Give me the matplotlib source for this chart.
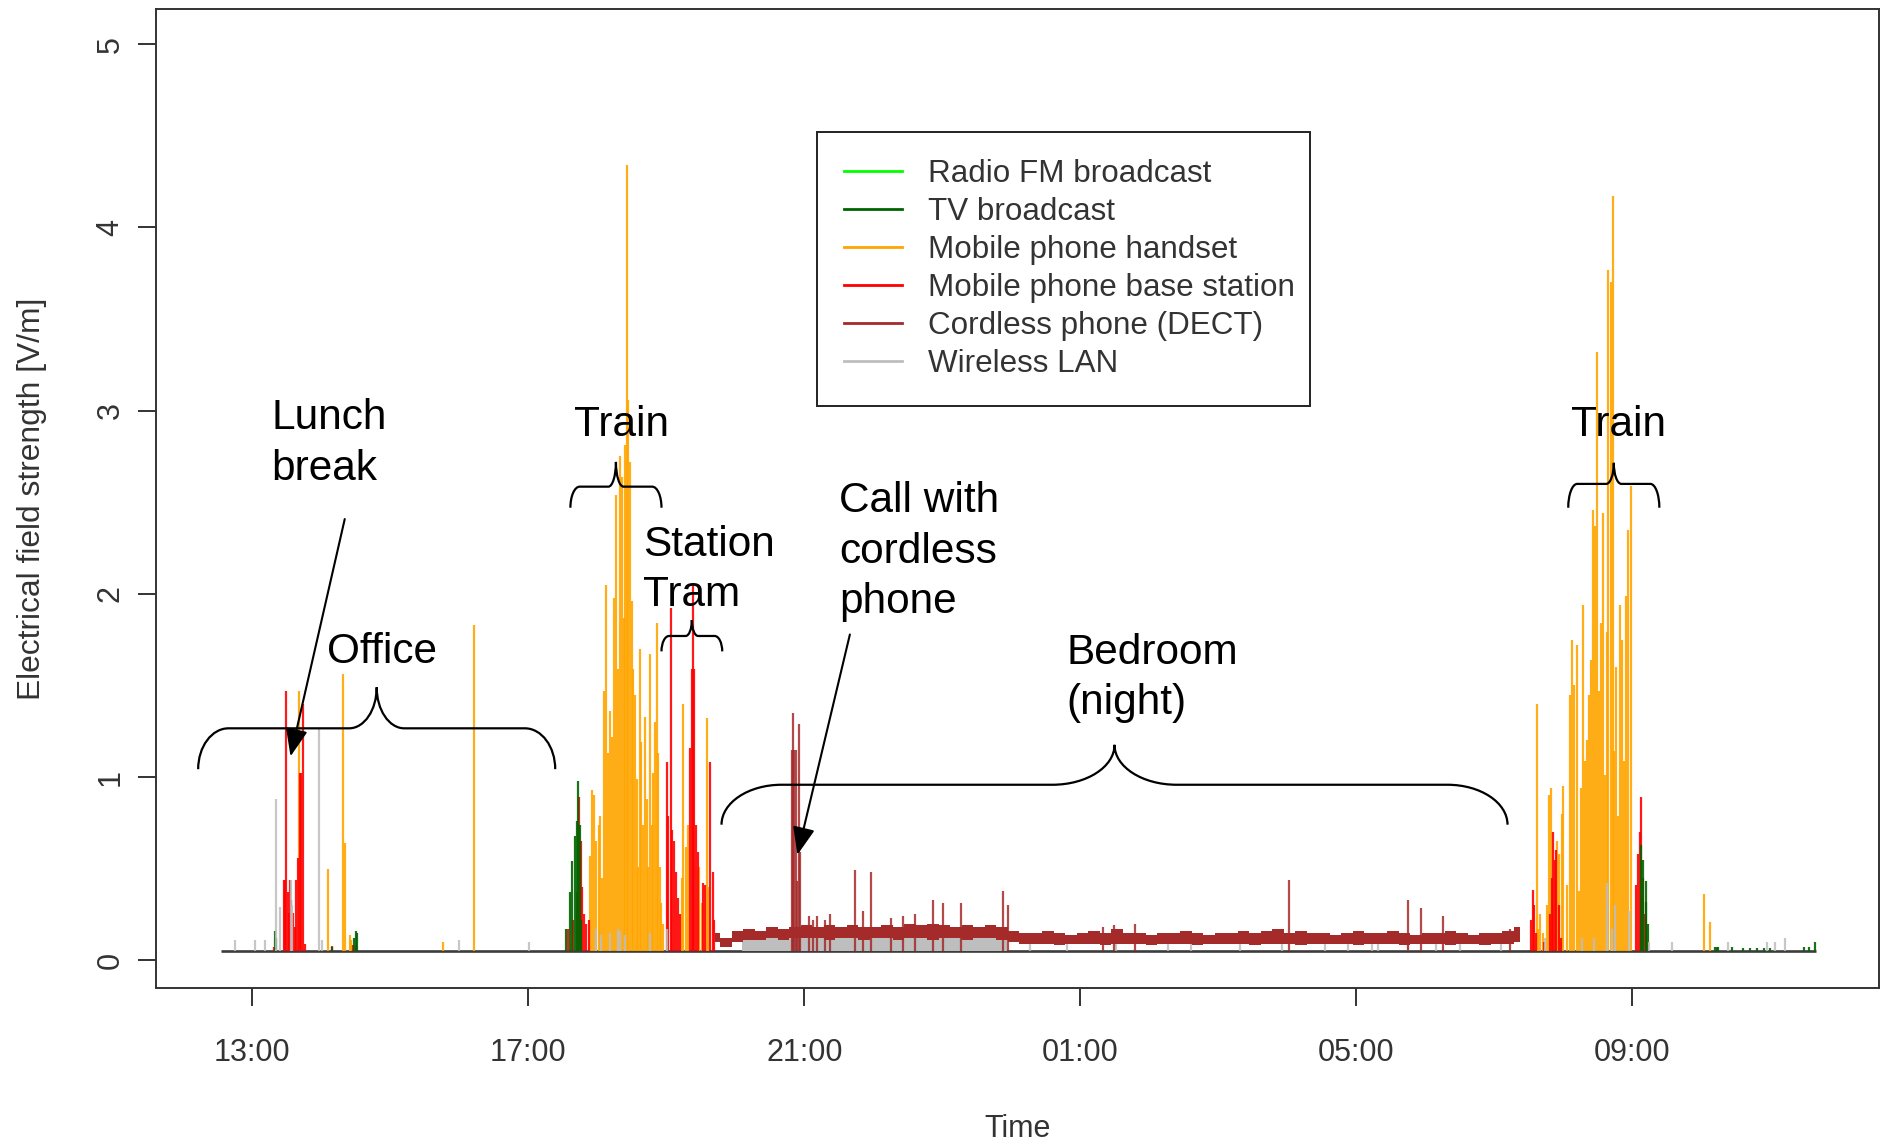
import numpy as np
import matplotlib.pyplot as plt
from matplotlib.lines import Line2D
from matplotlib.path import Path
from matplotlib.patches import PathPatch

plt.rcParams['font.family'] = ['Liberation Sans', 'DejaVu Sans']

# time axis: hours after midnight of the first day (25 = 01:00 next morning)
tick_hours = [13, 17, 21, 25, 29, 33]
tick_labels = ['13:00', '17:00', '21:00', '01:00', '05:00', '09:00']

series_names = ['Radio FM broadcast', 'TV broadcast', 'Mobile phone handset',
                'Mobile phone base station', 'Cordless phone (DECT)', 'Wireless LAN']
series_colors = ['#00ff00', '#006400', '#ffa500', '#ff0000', '#a52a2a', '#bebebe']

floor_level = 0.05          # detection limit, every band sits on it
record_start, record_end = 12.55, 35.66

# Radio FM never rises above the floor
fm_t = []
fm_v = []

tv_t = [13.33, 13.34, 14.15, 14.48, 14.50, 14.52,
        17.55, 17.60, 17.64, 17.67, 17.70, 17.72, 17.75, 17.77,
        33.13, 33.16, 33.19, 33.20, 33.23,
        34.19, 34.22, 34.24, 34.44, 34.60, 34.70, 34.80, 34.90, 35.00,
        35.49, 35.56, 35.64]
tv_v = [0.16, 0.12, 0.075, 0.12, 0.16, 0.15,
        0.17, 0.37, 0.54, 0.68, 0.76, 0.98, 0.74, 0.22,
        0.63, 0.55, 0.43, 0.32, 0.20,
        0.07, 0.07, 0.07, 0.07, 0.065, 0.065, 0.065, 0.065, 0.065,
        0.07, 0.07, 0.10]

handset_t = [13.67, 14.10, 14.32, 14.34, 14.41, 14.43, 15.77, 16.22,
             # train (evening)
             17.892, 17.926, 17.955, 17.988, 18.022, 18.046, 18.075, 18.100,
             18.133, 18.157, 18.182, 18.215, 18.244, 18.278, 18.302, 18.327,
             18.356, 18.380, 18.399, 18.423, 18.447, 18.471, 18.496, 18.520,
             18.544, 18.568, 18.592, 18.616, 18.640, 18.665, 18.689, 18.713,
             18.737, 18.761, 18.786, 18.810, 18.834, 18.858, 18.882, 18.906,
             18.930, 18.955,
             # station / tram
             19.220, 19.244, 19.278, 19.307, 19.476, 19.510, 19.583, 19.607,
             # train (morning)
             31.610, 31.636, 31.660, 31.710, 31.760, 31.795, 31.819, 31.901,
             31.940, 31.974, 31.998, 32.046, 32.095, 32.128, 32.157, 32.191,
             32.220, 32.249, 32.278, 32.312, 32.336, 32.370, 32.394, 32.423,
             32.457, 32.486, 32.515, 32.544, 32.568, 32.602, 32.626, 32.650,
             32.684, 32.713, 32.737, 32.761, 32.785, 32.819, 32.843, 32.877,
             32.906, 32.940, 32.979,
             34.04, 34.13]
handset_v = [1.47, 0.50, 1.56, 0.64, 0.14, 0.11, 0.10, 1.83,
             0.57, 0.93, 0.90, 0.65, 0.74, 0.79, 0.45, 1.47,
             2.05, 1.13, 1.36, 1.22, 1.98, 2.54, 1.59, 2.75,
             2.64, 1.87, 2.81, 4.34, 3.06, 2.72, 1.96, 1.59,
             1.45, 0.99, 0.51, 1.70, 1.19, 0.74, 1.33, 0.88,
             0.51, 1.67, 0.74, 1.02, 1.30, 1.84, 1.13, 0.51,
             0.31, 0.20,
             0.45, 1.40, 0.62, 0.74, 0.51, 0.31, 1.32, 0.40,
             1.40, 0.17, 0.25, 0.15, 0.30, 0.90, 0.94, 0.65,
             0.58, 0.80, 0.95, 0.41, 1.45, 1.75, 1.50, 1.72,
             0.38, 0.94, 1.94, 1.09, 1.20, 1.45, 1.64, 2.46,
             2.37, 3.32, 1.47, 1.84, 2.44, 1.01, 1.79, 3.77,
             3.70, 4.17, 1.14, 1.60, 0.79, 1.94, 1.75, 1.09,
             1.99, 2.35, 2.59,
             0.36, 0.21]

base_t = [13.32, 13.457, 13.480, 13.495, 13.520, 13.534, 13.553, 13.568,
          13.592, 13.616, 13.640, 13.664, 13.688, 13.713, 13.737, 13.761,
          14.15, 14.46, 14.51,
          17.578, 17.650, 17.699, 17.737, 17.757, 17.776, 17.805, 17.843, 17.882,
          19.003, 19.027, 19.061, 19.085, 19.109, 19.138, 19.172, 19.196,
          19.341, 19.365, 19.380, 19.404, 19.428, 19.452, 19.534, 19.558,
          19.640, 19.670, 19.689,
          31.524, 31.552, 31.574, 31.596, 31.718, 31.801, 31.829, 31.846,
          31.873, 31.895, 31.929, 31.968,
          33.049, 33.077, 33.105, 33.121, 33.149, 33.188, 33.215]
base_v = [0.07, 0.44, 0.44, 1.47, 0.37, 0.26, 0.44, 0.33,
          0.26, 0.18, 0.44, 0.56, 1.02, 1.02, 1.40, 0.09,
          0.08, 0.085, 0.085,
          0.17, 0.22, 0.37, 0.89, 0.65, 0.40, 0.25, 0.20, 0.22,
          1.08, 0.79, 1.92, 0.71, 0.65, 0.48, 0.34, 0.25,
          1.16, 1.59, 2.05, 1.59, 0.74, 0.59, 0.42, 0.41,
          1.08, 0.48, 0.22,
          0.22, 0.385, 0.30, 0.15, 0.10, 0.25, 0.45, 0.70,
          0.55, 0.60, 0.30, 0.12,
          0.41, 0.58, 0.70, 0.89, 0.45, 0.25, 0.10]

# cordless phone: peaks above the night-time band
dect_t = [20.820, 20.834, 20.855, 20.875, 20.900, 20.917, 20.939,
          21.07, 21.13, 21.19, 21.30, 21.37, 21.732, 21.849, 21.960,
          22.25, 22.425, 22.60, 22.858, 23.008, 23.269, 23.879, 23.956,
          25.33, 25.49, 25.79, 28.02, 29.75, 29.93, 30.25, 31.22]
dect_v = [1.15, 1.35, 1.15, 1.15, 0.43, 1.29, 0.59,
          0.24, 0.22, 0.24, 0.22, 0.25, 0.49, 0.27, 0.48,
          0.23, 0.24, 0.25, 0.33, 0.31, 0.31, 0.38, 0.30,
          0.18, 0.19, 0.20, 0.44, 0.33, 0.285, 0.243, 0.17]

# cordless phone background during the night, one reading every 10 minutes
dect_band_start = 19.70
dect_band_hi = [0.15, 0.12, 0.16, 0.17, 0.16, 0.18, 0.17, 0.18, 0.19, 0.18,
                0.19, 0.18, 0.19, 0.18, 0.18, 0.19, 0.18, 0.20, 0.19, 0.20,
                0.19, 0.18, 0.19, 0.18, 0.19, 0.18, 0.16, 0.15, 0.15, 0.16,
                0.15, 0.14, 0.15, 0.16, 0.15, 0.17, 0.15, 0.15, 0.14, 0.15,
                0.15, 0.16, 0.15, 0.14, 0.15, 0.15, 0.16, 0.15, 0.16, 0.17,
                0.15, 0.16, 0.15, 0.15, 0.14, 0.15, 0.16, 0.15, 0.15, 0.16,
                0.15, 0.14, 0.15, 0.15, 0.16, 0.15, 0.14, 0.15, 0.15, 0.16,
                0.18]
dect_band_lo = [0.10, 0.07, 0.10, 0.11, 0.11, 0.12, 0.11, 0.12, 0.12, 0.12,
                0.11, 0.12, 0.12, 0.11, 0.12, 0.12, 0.11, 0.12, 0.12, 0.11,
                0.12, 0.12, 0.11, 0.12, 0.12, 0.11, 0.10, 0.09, 0.09, 0.09,
                0.085, 0.09, 0.09, 0.09, 0.085, 0.09, 0.09, 0.09, 0.085, 0.09,
                0.09, 0.09, 0.085, 0.09, 0.09, 0.09, 0.09, 0.085, 0.09, 0.09,
                0.09, 0.085, 0.09, 0.09, 0.09, 0.09, 0.085, 0.09, 0.09, 0.09,
                0.085, 0.09, 0.09, 0.09, 0.085, 0.09, 0.09, 0.085, 0.09, 0.09,
                0.10]

wlan_t = [12.746, 13.036, 13.181, 13.350, 13.408, 13.555, 13.570, 13.964, 14.017,
          15.997, 17.01,
          17.988, 18.060, 18.182, 18.302, 18.327, 18.399, 18.761, 19.003,
          24.27, 24.80, 25.52, 26.27, 26.61, 27.31, 27.92, 28.54, 28.88,
          29.22, 29.32, 29.75, 30.16, 30.50, 31.10,
          31.74, 32.27, 32.44, 32.633, 32.705, 32.744, 32.949,
          33.24, 33.58, 34.39, 34.95, 35.07, 35.21]
wlan_v = [0.11, 0.11, 0.11, 0.88, 0.29, 0.44, 0.30, 1.26, 0.11,
          0.11, 0.10,
          0.17, 0.14, 0.15, 0.17, 0.16, 0.14, 0.15, 0.17,
          0.10, 0.10, 0.11, 0.10, 0.10, 0.09, 0.11, 0.10, 0.10,
          0.11, 0.10, 0.11, 0.10, 0.10, 0.10,
          0.12, 0.12, 0.12, 0.42, 0.17, 0.30, 0.27,
          0.10, 0.10, 0.10, 0.10, 0.10, 0.12]

# wireless LAN background in the evening, one reading every 10 minutes
wlan_band_start = 20.10
wlan_band_v = [0.15, 0.16, 0.15, 0.16, 0.17, 0.16, 0.15, 0.16, 0.16, 0.17,
               0.16, 0.15, 0.16, 0.17, 0.16, 0.16, 0.15, 0.16, 0.16, 0.17,
               0.16, 0.15, 0.16, 0.16]


def brace(ax, x0, x1, y, y_end, y_tip, rx, rt):
    c = 0.5523
    xm = (x0 + x1) / 2
    verts = [(x0, y_end),
             (x0, y_end + c * (y - y_end)), (x0 + rx - c * rx, y), (x0 + rx, y),
             (xm - rt, y),
             (xm - rt + c * rt, y), (xm, y_tip - c * (y_tip - y)), (xm, y_tip),
             (xm, y_tip - c * (y_tip - y)), (xm + rt - c * rt, y), (xm + rt, y),
             (x1 - rx, y),
             (x1 - rx + c * rx, y), (x1, y_end + c * (y - y_end)), (x1, y_end)]
    codes = ([Path.MOVETO] + [Path.CURVE4] * 3 + [Path.LINETO] + [Path.CURVE4] * 6
             + [Path.LINETO] + [Path.CURVE4] * 3)
    ax.add_patch(PathPatch(Path(verts, codes), fill=False, lw=1.6,
                           edgecolor='black', zorder=6))


fig = plt.figure(figsize=(18.85, 11.42), dpi=100)
ax = fig.add_axes([0.0828, 0.1349, 0.9139, 0.8569])

ax.hlines(floor_level, record_start, record_end, color='#3c3c3c', lw=1.9, zorder=2)

spike_w = 1.6
ax.vlines(handset_t, floor_level, handset_v, color=series_colors[2], lw=spike_w, alpha=0.9, zorder=3)
ax.vlines(base_t, floor_level, base_v, color=series_colors[3], lw=spike_w, alpha=0.9, zorder=3)
ax.vlines(tv_t, floor_level, tv_v, color=series_colors[1], lw=spike_w, alpha=0.9, zorder=3)
if fm_t:
    ax.vlines(fm_t, floor_level, fm_v, color=series_colors[0], lw=spike_w, zorder=3)

wlan_band_t = wlan_band_start + np.arange(len(wlan_band_v)) / 6
ax.fill_between(wlan_band_t, floor_level, wlan_band_v, step='mid',
                color=series_colors[5], lw=0, zorder=3)
ax.vlines(wlan_t, floor_level, wlan_v, color=series_colors[5], lw=spike_w, alpha=0.85, zorder=3)

dect_band_t = dect_band_start + np.arange(len(dect_band_hi)) / 6
ax.fill_between(dect_band_t, dect_band_lo, dect_band_hi, step='mid',
                color=series_colors[4], lw=0, zorder=4)
ax.vlines(dect_t, floor_level, dect_v, color=series_colors[4], lw=spike_w, alpha=0.85, zorder=4)

ax.set_xlim(11.606, 36.57)
ax.set_ylim(-0.151, 5.19)
ax.set_xticks(tick_hours)
ax.set_xticklabels(tick_labels)
ax.set_yticks([0, 1, 2, 3, 4, 5])

for s in ax.spines.values():
    s.set_color('#333333')
    s.set_linewidth(1.4)
ax.tick_params(length=13, width=1.4, color='#333333', labelsize=22,
               labelcolor='#333333')
ax.tick_params(axis='x', pad=23)
ax.tick_params(axis='y', pad=9, labelrotation=90)
for lab in ax.get_yticklabels():
    lab.set_va('center')

ax.set_xlabel('Time', fontsize=22, color='#333333')
ax.set_ylabel('Electrical field strength [V/m]', fontsize=22.9, color='#333333')
ax.xaxis.set_label_coords(0.5, -0.1284)
ax.yaxis.set_label_coords(-0.0636, 0.5)

# annotations
txt = dict(fontsize=30.5, color='black', ha='left', va='center', linespacing=1.33, zorder=7)
ax.text(13.279, 2.821, 'Lunch\nbreak', **txt)
ax.text(14.08, 1.682, 'Office', **txt)
ax.text(17.669, 2.922, 'Train', **txt)
ax.text(18.662, 2.132, 'Station\nTram', **txt)
ax.text(21.502, 2.231, 'Call with\ncordless\nphone', **txt)
ax.text(24.794, 1.542, 'Bedroom\n(night)', **txt)
ax.text(32.111, 2.922, 'Train', **txt)

brace(ax, 12.216, 17.39, 1.266, 1.043, 1.49, 0.44, 0.40)
brace(ax, 17.61, 18.93, 2.585, 2.47, 2.72, 0.135, 0.11)
brace(ax, 18.93, 19.81, 1.77, 1.686, 1.857, 0.11, 0.09)
brace(ax, 19.80, 31.19, 0.958, 0.74, 1.176, 0.87, 0.90)
brace(ax, 32.07, 33.39, 2.60, 2.47, 2.715, 0.13, 0.11)

arrow = dict(arrowstyle='-|>,head_length=1.0,head_width=0.4', color='black',
             lw=1.5, mutation_scale=17, shrinkA=0, shrinkB=0)
ax.annotate('', xy=(13.554, 1.113), xytext=(14.34, 2.408), arrowprops=arrow, zorder=7)
ax.annotate('', xy=(20.90, 0.576), xytext=(21.66, 1.778), arrowprops=arrow, zorder=7)

handles = [Line2D([], [], color=c, lw=2) for c in series_colors]
leg = ax.legend(handles, series_names, loc='upper left',
                bbox_to_anchor=(0.3839, 0.6002, 0.2862, 0.274), mode='expand',
                borderaxespad=0, fontsize=22.6, handlelength=1.85, handletextpad=0.80,
                borderpad=0.86, labelspacing=0.25, fancybox=False, framealpha=1,
                edgecolor='#222222')
leg.get_frame().set_linewidth(1.4)
for t in leg.get_texts():
    t.set_color('#333333')
leg.set_zorder(8)

fig.savefig('out.png', dpi=100)
